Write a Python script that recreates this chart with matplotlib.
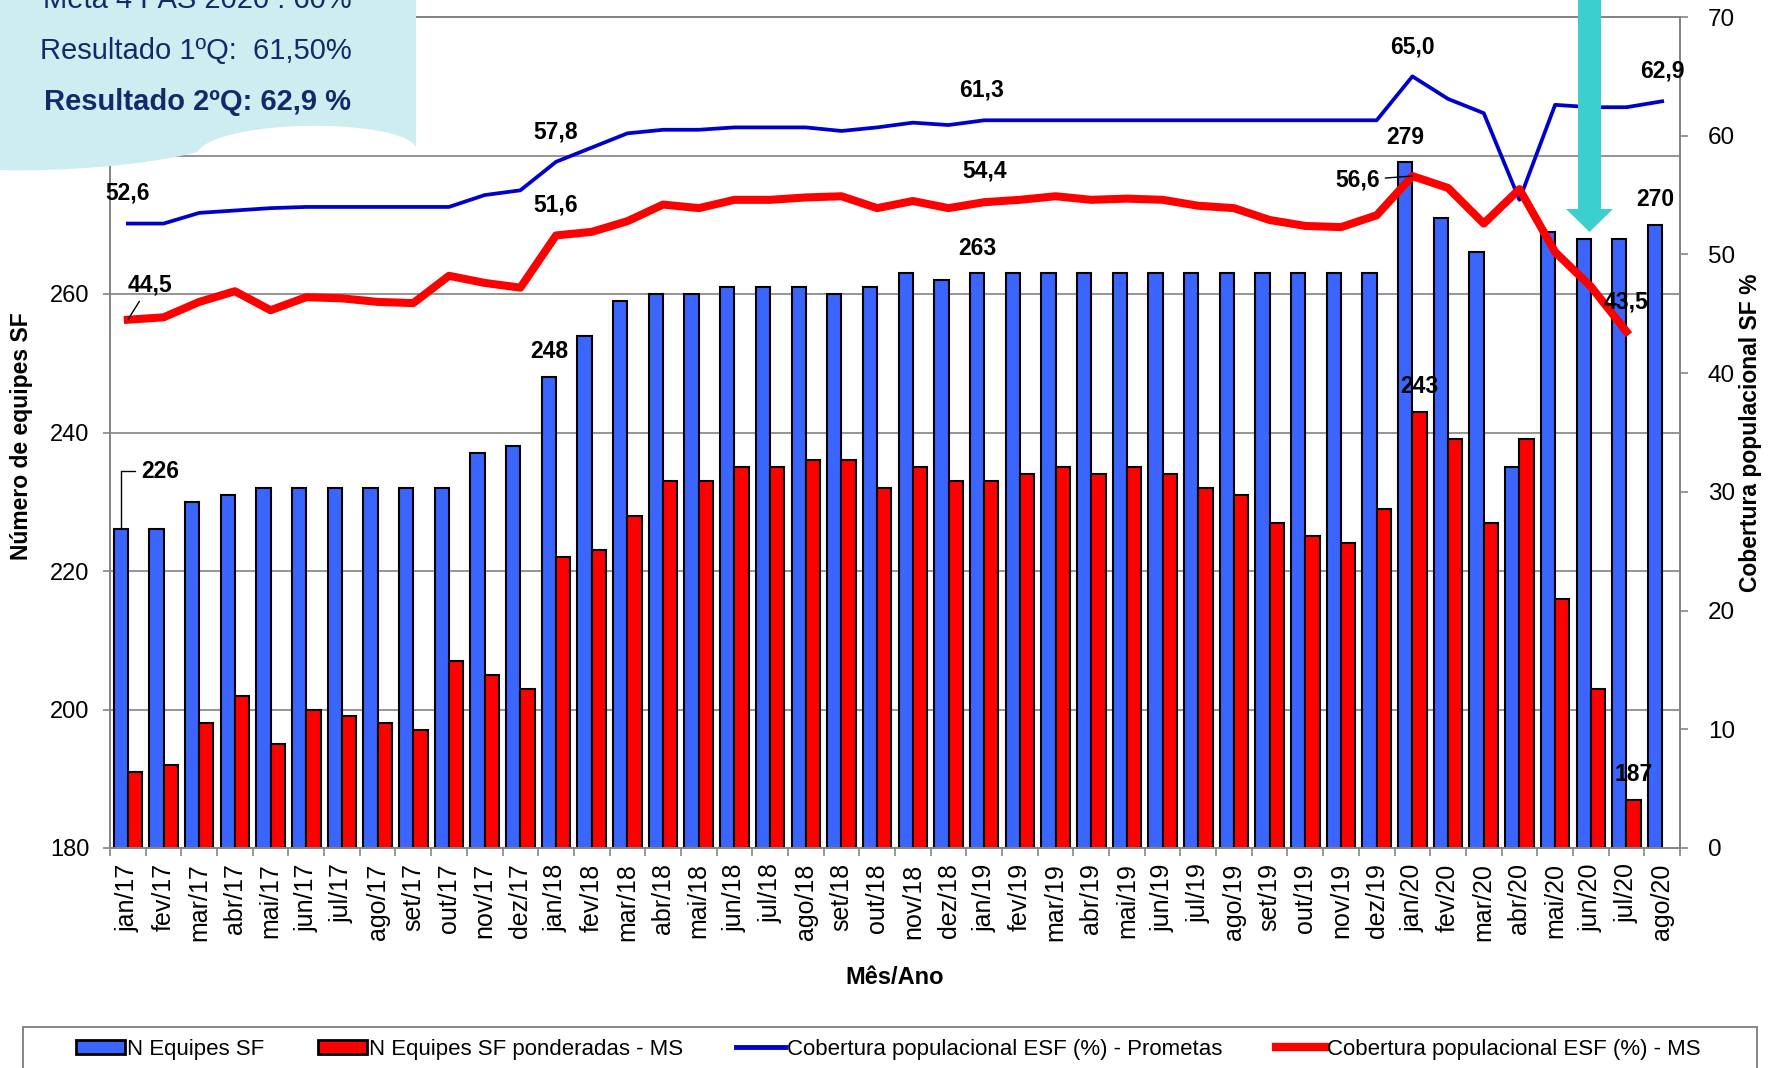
import numpy as np
import matplotlib
matplotlib.use("Agg")
import matplotlib.pyplot as plt
from matplotlib.patches import Patch, Rectangle, Polygon, PathPatch
from matplotlib.lines import Line2D
from matplotlib.path import Path

plt.rcParams["font.family"] = ["Liberation Sans", "DejaVu Sans"]

months = [
    "jan/17", "fev/17", "mar/17", "abr/17", "mai/17", "jun/17", "jul/17", "ago/17", "set/17", "out/17", "nov/17", "dez/17",
    "jan/18", "fev/18", "mar/18", "abr/18", "mai/18", "jun/18", "jul/18", "ago/18", "set/18", "out/18", "nov/18", "dez/18",
    "jan/19", "fev/19", "mar/19", "abr/19", "mai/19", "jun/19", "jul/19", "ago/19", "set/19", "out/19", "nov/19", "dez/19",
    "jan/20", "fev/20", "mar/20", "abr/20", "mai/20", "jun/20", "jul/20", "ago/20",
]

# N Equipes SF (left axis)
equipes = [
    226, 226, 230, 231, 232, 232, 232, 232, 232, 232, 237, 238,
    248, 254, 259, 260, 260, 261, 261, 261, 260, 261, 263, 262,
    263, 263, 263, 263, 263, 263, 263, 263, 263, 263, 263, 263,
    279, 271, 266, 235, 269, 268, 268, 270,
]

# N Equipes SF ponderadas - MS (left axis, no value for ago/20)
ponderadas = [
    191, 192, 198, 202, 195, 200, 199, 198, 197, 207, 205, 203,
    222, 223, 228, 233, 233, 235, 235, 236, 236, 232, 235, 233,
    233, 234, 235, 234, 235, 234, 232, 231, 227, 225, 224, 229,
    243, 239, 227, 239, 216, 203, 187,
]

# Cobertura populacional ESF (%) - Prometas (right axis)
cob_prometas = [
    52.6, 52.6, 53.5, 53.7, 53.9, 54.0, 54.0, 54.0, 54.0, 54.0, 55.0, 55.4,
    57.8, 59.0, 60.2, 60.5, 60.5, 60.7, 60.7, 60.7, 60.4, 60.7, 61.1, 60.9,
    61.3, 61.3, 61.3, 61.3, 61.3, 61.3, 61.3, 61.3, 61.3, 61.3, 61.3, 61.3,
    65.0, 63.1, 61.9, 54.6, 62.6, 62.4, 62.4, 62.9,
]

# Cobertura populacional ESF (%) - MS (right axis, no value for ago/20)
cob_ms = [
    44.5, 44.7, 46.0, 46.9, 45.3, 46.4, 46.3, 46.0, 45.9, 48.2, 47.6, 47.2,
    51.6, 51.9, 52.8, 54.2, 53.9, 54.6, 54.6, 54.8, 54.9, 53.9, 54.5, 53.9,
    54.4, 54.6, 54.9, 54.6, 54.7, 54.6, 54.1, 53.9, 52.9, 52.4, 52.3, 53.3,
    56.6, 55.6, 52.6, 55.5, 50.2, 47.3, 43.5,
]

left_ticks = [180, 200, 220, 240, 260, 280, 300]
left_ticklabels = ["180", "200", "220", "240", "260", "", ""]  # top ones sit under the callout

callout_lines = ["Meta 4 PAS 2020 : 60%", "Resultado 1ºQ:  61,50%", "Resultado 2ºQ: 62,9 %"]

BLUE_BAR = "#3a66ff"
RED = "#ff0000"
BLUE_LINE = "#0000cc"
GRAY = "#858585"
NAVY = "#13296b"
CYAN = "#3ccfcf"
CLOUD = "#ceedf0"

W, H = 1777, 1068
PT = 0.72  # points per pixel at dpi 100


def fx(x):
    return x / W


def fy(y):
    return 1 - y / H


def fmt(v):
    return f"{v:.1f}".replace(".", ",")


fig = plt.figure(figsize=(W / 100, H / 100), dpi=100)
ax = fig.add_axes([fx(110), fy(848), 1570 / W, 831 / H])
ax2 = ax.twinx()

x = np.arange(len(months))
xr = x[:len(ponderadas)]

ax.bar(x - 0.2, equipes, 0.4, color=BLUE_BAR, edgecolor="black", linewidth=1.5, zorder=2)
ax.bar(xr + 0.2, ponderadas, 0.4, color=RED, edgecolor="black", linewidth=1.5, zorder=2)

ax2.plot(x, cob_prometas, color=BLUE_LINE, lw=2.7, zorder=3)
ax2.plot(x[:len(cob_ms)], cob_ms, color=RED, lw=5.8, zorder=4)

ax.set_xlim(-0.5, len(months) - 0.5)
ax.set_ylim(180, 300)
ax2.set_ylim(0, 70)

ax.set_xticks(x)
ax.set_xticklabels(months, rotation=90, fontsize=18)
ax.set_xticks(np.arange(-0.5, len(months), 1), minor=True)
ax.tick_params(axis="x", which="major", length=0, pad=11)
ax.tick_params(axis="x", which="minor", length=6, color=GRAY, width=1.2)

ax.set_yticks(left_ticks)
ax.set_yticklabels(left_ticklabels)
ax.tick_params(axis="y", labelsize=17, length=5, color=GRAY, width=1.2, pad=10)
ax.yaxis.grid(True, color="#8c8c8c", lw=1.3)
ax.set_axisbelow(True)

ax2.set_yticks(range(0, 71, 10))
ax2.tick_params(axis="y", labelsize=17.5, length=6, color=GRAY, width=1.2, pad=14)

for a in (ax, ax2):
    for s in a.spines.values():
        s.set_color(GRAY)
        s.set_linewidth(1.4)

# value labels (offsets in pixels, converted to points)
bold = dict(fontsize=16.5, fontweight="bold", ha="center", va="center", color="black", zorder=6)


def tag(axis, xi, yv, text, dx=0, dy=30, arrow=None):
    axis.annotate(text, (xi, yv), xytext=(dx * PT, dy * PT), textcoords="offset points",
                  arrowprops=arrow, annotation_clip=False, **bold)


leader = dict(arrowstyle="-", color="black", lw=1.0, shrinkA=2, shrinkB=0)

tag(ax2, 0, cob_prometas[0], fmt(cob_prometas[0]), 0, 31)
tag(ax2, 0, cob_ms[0], fmt(cob_ms[0]), 22, 35, leader)
tag(ax, -0.2, equipes[0], str(equipes[0]), 40, 58,
    dict(arrowstyle="-", color="black", lw=1.0, shrinkA=3, shrinkB=0,
         connectionstyle="angle,angleA=0,angleB=90,rad=0"))
tag(ax2, 12, cob_prometas[12], fmt(cob_prometas[12]))
tag(ax2, 12, cob_ms[12], fmt(cob_ms[12]))
tag(ax, 12 - 0.2, equipes[12], str(equipes[12]), 0, 26)
tag(ax2, 24, cob_prometas[24], fmt(cob_prometas[24]), -3, 30)
tag(ax2, 24, cob_ms[24], fmt(cob_ms[24]), 0, 31)
tag(ax, 24 - 0.2, equipes[24], str(equipes[24]), 0, 25)
tag(ax2, 36, cob_prometas[36], fmt(cob_prometas[36]), 0, 29)
tag(ax, 36 - 0.2, equipes[36], str(equipes[36]), 0, 25)
tag(ax2, 36, cob_ms[36], fmt(cob_ms[36]), -55, -4, leader)
tag(ax, 36 + 0.2, ponderadas[36], str(ponderadas[36]), 0, 25)
tag(ax2, 43, cob_prometas[43], fmt(cob_prometas[43]), 0, 30)
tag(ax, 43 - 0.2, equipes[43], str(equipes[43]), 0, 25)
tag(ax2, 42, cob_ms[42], fmt(cob_ms[42]), 0, 30)
tag(ax, 42 + 0.2, ponderadas[42], str(ponderadas[42]), 0, 25)

# axis titles
fig.text(fx(22), fy(436), "Número de equipes SF", rotation=90, fontsize=16.5,
         fontweight="bold", ha="center", va="center")
fig.text(fx(1750), fy(433), "Cobertura populacional SF %", rotation=90, fontsize=16.5,
         fontweight="bold", ha="center", va="center")
fig.text(fx(895), fy(977), "Mês/Ano", fontsize=17, fontweight="bold", ha="center", va="center")

# callout cloud in the top-left corner
pts = [(0, -2), (416, -2), (416, 147), (400, 118), (220, 118), (197, 152),
       (150, 165), (60, 172), (0, 170), (0, -2)]
codes = [Path.MOVETO, Path.LINETO, Path.LINETO, Path.CURVE4, Path.CURVE4, Path.CURVE4,
         Path.CURVE4, Path.CURVE4, Path.CURVE4, Path.CLOSEPOLY]
cloud = Path([(fx(px), fy(py)) for px, py in pts], codes)
fig.patches.append(PathPatch(cloud, transform=fig.transFigure, facecolor=CLOUD,
                             edgecolor="none", zorder=5))
fig.text(fx(197), fy(8), callout_lines[0], fontsize=21, color=NAVY, ha="center", va="baseline", zorder=6)
fig.text(fx(196), fy(59), callout_lines[1], fontsize=21, color=NAVY, ha="center", va="baseline", zorder=6)
fig.text(fx(197), fy(110), callout_lines[2], fontsize=21, fontweight="bold", color=NAVY,
         ha="center", va="baseline", zorder=6)

# cyan arrow pointing down at jun/20
arrow_px = [(1578, -5), (1601, -5), (1601, 209), (1613, 209), (1589.5, 232),
            (1566, 209), (1578, 209)]
fig.patches.append(Polygon([(fx(px), fy(py)) for px, py in arrow_px], closed=True,
                           transform=fig.transFigure, facecolor=CYAN, edgecolor="none", zorder=5))

# legend box along the bottom
fig.patches.append(Rectangle((fx(23), fy(1090)), (1757 - 23) / W, (1090 - 1027) / H,
                             transform=fig.transFigure, facecolor="white",
                             edgecolor=GRAY, lw=1.4, zorder=1))
handles = [
    Patch(facecolor=BLUE_BAR, edgecolor="black", linewidth=2),
    Patch(facecolor=RED, edgecolor="black", linewidth=2),
    Line2D([], [], color=BLUE_LINE, lw=3.5),
    Line2D([], [], color=RED, lw=6),
]
labels = ["N Equipes SF", "N Equipes SF ponderadas - MS",
          "Cobertura populacional ESF (%) - Prometas", "Cobertura populacional ESF (%) - MS"]
leg = fig.legend(handles, labels, loc="center", bbox_to_anchor=(0.5, fy(1049)), ncol=4,
                 frameon=False, fontsize=16, handlelength=2.2, handletextpad=0.1,
                 columnspacing=2.4, handleheight=0.6)
leg.set_zorder(6)

fig.savefig("out.png", dpi=100)
